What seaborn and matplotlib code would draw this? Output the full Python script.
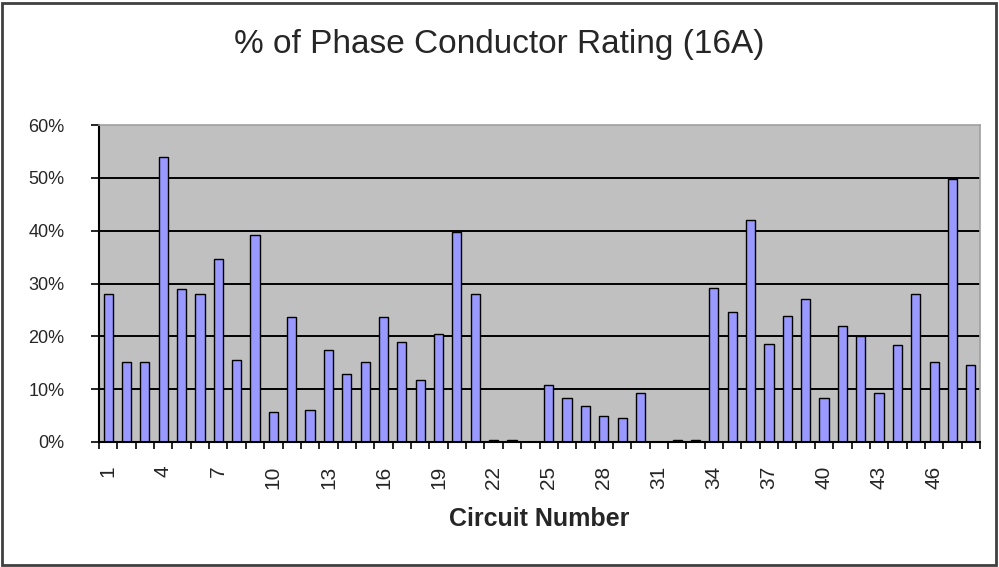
import numpy as np
import pandas as pd
import matplotlib
matplotlib.use("Agg")
import matplotlib.pyplot as plt
import seaborn as sns
from matplotlib.patches import Rectangle

circuits = list(range(1, 49))
values = [28.1, 15.2, 15.2, 53.9, 28.9, 28.1, 34.6, 15.6, 39.1, 5.7,
          23.6, 6.1, 17.5, 12.9, 15.2, 23.6, 19.0, 11.8, 20.5, 39.7,
          28.1, 0.4, 0.4, 0.0, 10.7, 8.4, 6.9, 5.0, 4.6, 9.2,
          0.0, 0.4, 0.4, 29.2, 24.7, 42.1, 18.6, 23.9, 27.0, 8.4,
          22.0, 20.0, 9.2, 18.3, 28.1, 15.2, 49.7, 14.5]
ytick_vals = [0, 10, 20, 30, 40, 50, 60]
ytick_labels = ["0%", "10%", "20%", "30%", "40%", "50%", "60%"]
title = "% of Phase Conductor Rating (16A)"
xlabel = "Circuit Number"

df = pd.DataFrame({"circuit": [str(c) for c in circuits], "value": values})

sns.set_style("white")
plt.rcParams['font.family'] = ['Liberation Sans', 'DejaVu Sans']

fig = plt.figure(figsize=(9.99, 5.67), dpi=100)
ax = fig.add_axes([99/999, 1 - 442/567, 881/999, 317/567])
ax.set_facecolor("#C0C0C0")

sns.barplot(data=df, x="circuit", y="value", ax=ax, color="#9999FF",
            width=0.5, edgecolor="black", linewidth=1.0, saturation=1)
for p in ax.patches:
    p.set_facecolor("#9999FF")

ax.set_xlim(-0.5, len(circuits) - 0.5)
ax.set_ylim(0, 60)

# gridlines
for v in ytick_vals[1:-1]:
    ax.axhline(v, color="black", lw=1.4, zorder=0.5)

ax.set_yticks(ytick_vals)
ax.set_yticklabels(ytick_labels, fontsize=13)
ax.tick_params(axis="y", length=6, width=1.2, color="black", pad=19, left=True, direction="out")

lab_pos = list(range(0, len(circuits), 3))
ax.set_xticks(lab_pos)
ax.set_xticklabels([str(circuits[i]) for i in lab_pos], rotation=90, fontsize=15)
ax.tick_params(axis="x", which="major", length=0, pad=17)
ax.set_xticks(np.arange(-0.5, len(circuits), 1), minor=True)
ax.tick_params(axis="x", which="minor", length=5, width=1.2, color="black", bottom=True, direction="out")

ax.set_xlabel(xlabel, fontsize=18, fontweight="bold", labelpad=13)
ax.set_ylabel("")

for s in ["left", "bottom"]:
    ax.spines[s].set_color("black")
    ax.spines[s].set_linewidth(1.5)
for s in ["top", "right"]:
    ax.spines[s].set_color("#A0A0A0")
    ax.spines[s].set_linewidth(1.2)

fig.text(0.5, 1 - 45/567, title, ha="center", va="center", fontsize=24)

fig.patches.append(Rectangle((2/999, 2/567), 994/999, 562/567, transform=fig.transFigure,
                             fill=False, edgecolor="#404040", linewidth=2))

fig.savefig("out.png", dpi=100)
